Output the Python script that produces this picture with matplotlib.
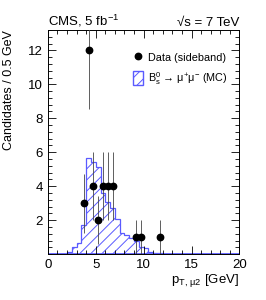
import numpy as np
import matplotlib
matplotlib.use("Agg")
import matplotlib.pyplot as plt
from matplotlib.ticker import MultipleLocator
from matplotlib.patches import Patch
from matplotlib.lines import Line2D

plt.rcParams['font.family'] = ['Liberation Sans', 'DejaVu Sans']
plt.rcParams['mathtext.fontset'] = 'custom'
plt.rcParams['mathtext.rm'] = 'Liberation Sans'
plt.rcParams['mathtext.it'] = 'Liberation Sans'
plt.rcParams['hatch.color'] = '#4a4aff'
plt.rcParams['hatch.linewidth'] = 0.7

# data points (sideband), 0.5 GeV bins
data_x = [3.75, 4.25, 4.75, 5.25, 5.75, 6.25, 6.75, 9.25, 9.75, 11.75]
data_y = [3, 12, 4, 2, 4, 4, 4, 1, 1, 1]

# MC histogram
mc_edges = np.arange(2.0, 12.01, 0.5)
mc_vals = [0.12, 0.42, 0.65, 1.7, 5.65, 5.45, 5.15, 3.6, 3.05, 2.72, 2.05,
           1.25, 1.12, 0.97, 0.8, 0.43, 0.33, 0.15, 0.08, 0.04]

fig = plt.figure(figsize=(2.66, 3.0), dpi=100)
ax = fig.add_axes([0.18, 0.153, 0.72, 0.747])

ax.stairs(mc_vals, mc_edges, baseline=0, fill=False, color='#5a5aff',
          hatch='///', linewidth=0.9)
ax.axhline(0.03, color='#5a5aff', lw=1.3, zorder=1)

err = np.sqrt(data_y)
ax.errorbar(data_x, data_y, yerr=err, fmt='o', color='black', ms=4.6,
            ecolor='#444444', elinewidth=0.6, capsize=0, zorder=3)

ax.set_xlim(0, 20)
ax.set_ylim(0, 13.2)
ax.set_yticks([2, 4, 6, 8, 10, 12])
ax.xaxis.set_major_locator(MultipleLocator(5))
ax.xaxis.set_minor_locator(MultipleLocator(1))
ax.yaxis.set_minor_locator(MultipleLocator(0.4))
ax.tick_params(which='both', direction='in', top=True, right=True, labelsize=9.5, width=0.6)
ax.tick_params(which='major', length=6)
ax.tick_params(which='minor', length=3)
for s in ax.spines.values():
    s.set_linewidth(0.7)

ax.set_ylabel('Candidates / 0.5 GeV', fontsize=9)
ax.yaxis.set_label_coords(-0.17, 0.73)
ax.set_xlabel(r'p$_{\mathrm{T,\,\mu 2}}$ [GeV]', fontsize=9.5, loc='right', labelpad=1)

fig.text(0.18, 0.903, r'CMS, 5 fb$^{\mathrm{-1}}$', fontsize=9.5, ha='left', va='bottom')
fig.text(0.9, 0.903, '\u221as = 7 TeV', fontsize=9.5, ha='right', va='bottom')

handles = [Line2D([], [], marker='o', color='black', ls='none', ms=4.6),
           Patch(facecolor='none', edgecolor='#5a5aff', hatch='///')]
labels = ['Data (sideband)', 'B$_\\mathrm{s}^0$ \u2192 \u03bc$^{+}$\u03bc$^{-}$ (MC)']
ax.legend(handles, labels, loc='upper right', bbox_to_anchor=(0.99, 0.95),
          frameon=False, fontsize=7.8, handlelength=0.9, handleheight=1.6,
          labelspacing=0.45, handletextpad=0.5)

fig.savefig('out.png', dpi=100)
